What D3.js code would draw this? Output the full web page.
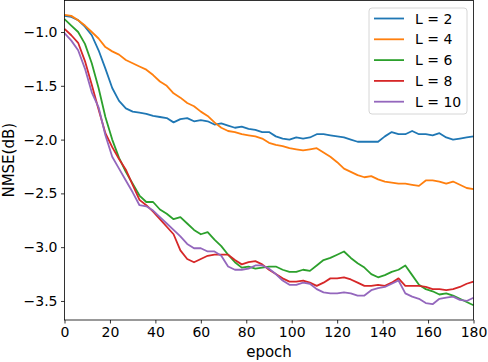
<!DOCTYPE html>
<html lang="en">
<head>
<meta charset="UTF-8">
<title>NMSE vs epoch</title>
<script src="https://cdn.jsdelivr.net/npm/d3@7"></script>
<style>
  body { margin: 0; background: #fff; }
  svg text { font-family: "DejaVu Sans", sans-serif; fill: #000; }
</style>
</head>
<body>
<svg width="488" height="362"></svg>
<script>
    // epochs sampled every 3
    var epochs = d3.range(0, 181, 3);

    var labels = ["L = 2", "L = 4", "L = 6", "L = 8", "L = 10"];
    var colors = ["#1f77b4", "#ff7f0e", "#2ca02c", "#d62728", "#9467bd"];

    var l2 = [-0.85,-0.86,-0.89,-0.95,-1.03,-1.17,-1.34,-1.52,-1.64,-1.71,-1.74,-1.75,-1.76,-1.78,-1.79,-1.80,
        -1.84,-1.81,-1.80,-1.83,-1.82,-1.83,-1.86,-1.85,-1.87,-1.89,-1.88,-1.90,-1.91,-1.93,-1.93,-1.97,-1.99,
        -2.00,-1.98,-1.99,-1.98,-1.95,-1.95,-1.96,-1.97,-1.98,-2.00,-2.02,-2.02,-2.02,-2.02,-1.97,-1.93,-1.95,
        -1.95,-1.92,-1.95,-1.95,-1.96,-1.94,-1.98,-2.00,-1.99,-1.98,-1.97];
    var l4 = [-0.84,-0.85,-0.89,-0.94,-1.00,-1.06,-1.14,-1.18,-1.21,-1.26,-1.29,-1.32,-1.35,-1.40,-1.46,-1.50,
        -1.57,-1.61,-1.66,-1.69,-1.74,-1.78,-1.84,-1.89,-1.92,-1.93,-1.95,-1.96,-1.97,-1.99,-2.03,-2.05,-2.06,
        -2.08,-2.09,-2.10,-2.09,-2.08,-2.12,-2.16,-2.21,-2.27,-2.30,-2.33,-2.35,-2.34,-2.37,-2.39,-2.40,-2.41,
        -2.41,-2.42,-2.43,-2.38,-2.38,-2.39,-2.41,-2.39,-2.42,-2.45,-2.46];
    var l6 = [-0.88,-0.94,-1.00,-1.11,-1.29,-1.52,-1.79,-2.00,-2.17,-2.30,-2.41,-2.52,-2.58,-2.58,-2.65,-2.69,
        -2.74,-2.72,-2.78,-2.84,-2.88,-2.86,-2.93,-2.99,-3.07,-3.14,-3.19,-3.18,-3.20,-3.19,-3.18,-3.18,-3.21,
        -3.23,-3.23,-3.21,-3.22,-3.17,-3.12,-3.10,-3.07,-3.04,-3.10,-3.15,-3.19,-3.25,-3.28,-3.26,-3.23,-3.21,
        -3.17,-3.26,-3.35,-3.39,-3.41,-3.44,-3.43,-3.45,-3.48,-3.51,-3.54];
    var l8 = [-0.97,-1.03,-1.10,-1.27,-1.49,-1.72,-1.94,-2.07,-2.18,-2.28,-2.42,-2.56,-2.61,-2.67,-2.74,-2.81,
        -2.88,-3.03,-3.11,-3.14,-3.11,-3.08,-3.07,-3.07,-3.07,-3.12,-3.16,-3.14,-3.13,-3.16,-3.21,-3.25,-3.29,
        -3.32,-3.32,-3.31,-3.33,-3.36,-3.33,-3.29,-3.29,-3.28,-3.30,-3.33,-3.36,-3.36,-3.35,-3.36,-3.33,-3.29,
        -3.36,-3.36,-3.36,-3.37,-3.39,-3.39,-3.40,-3.39,-3.37,-3.34,-3.32];
    var l10 = [-1.01,-1.08,-1.17,-1.34,-1.56,-1.70,-1.96,-2.16,-2.27,-2.38,-2.49,-2.61,-2.62,-2.66,-2.72,-2.78,
        -2.84,-2.90,-2.97,-3.01,-3.01,-3.04,-3.04,-3.08,-3.18,-3.21,-3.21,-3.20,-3.17,-3.17,-3.20,-3.25,-3.31,
        -3.35,-3.35,-3.33,-3.34,-3.39,-3.42,-3.43,-3.43,-3.42,-3.43,-3.45,-3.45,-3.40,-3.38,-3.37,-3.34,-3.31,
        -3.43,-3.46,-3.48,-3.52,-3.53,-3.48,-3.47,-3.46,-3.49,-3.50,-3.47];

    var xTicks = [0, 20, 40, 60, 80, 100, 120, 140, 160, 180];
    var yTicks = [-1.0, -1.5, -2.0, -2.5, -3.0, -3.5];

    var series = [l2, l4, l6, l8, l10];

    var svg = d3.select("svg");
    var plotL = 64.5, plotR = 473.5, plotT = 0.5, plotB = 320;

    var x = d3.scaleLinear().domain([0, 180]).range([plotL, plotR]);
    var y = d3.scaleLinear().domain([-3.677, -0.707]).range([plotB, plotT]);

    var minus = function (v) { return d3.format(".1f")(v).replace("-", "\u2212"); };

    // axes
    var gx = svg.append("g")
        .attr("transform", "translate(0," + plotB + ")")
        .call(d3.axisBottom(x).tickValues(xTicks).tickSize(3.5).tickPadding(3.5));
    var gy = svg.append("g")
        .attr("transform", "translate(" + plotL + ",0)")
        .call(d3.axisLeft(y).tickValues(yTicks).tickSize(3.5).tickPadding(3.5).tickFormat(minus));
    [gx, gy].forEach(function (g) {
        g.select(".domain").remove();
        g.selectAll("text").attr("font-size", 14).attr("font-family", "DejaVu Sans").attr("fill", "#000");
        g.selectAll("line").attr("stroke", "#000").attr("stroke-width", 0.8);
    });

    // lines
    var line = d3.line()
        .x(function (d, i) { return x(epochs[i]); })
        .y(function (d) { return y(d); });

    svg.append("g").selectAll("path")
        .data(series)
        .enter()
        .append("path")
        .attr("d", line)
        .attr("fill", "none")
        .attr("stroke", function (d, i) { return colors[i]; })
        .attr("stroke-width", 1.8)
        .attr("stroke-linejoin", "round");

    // frame
    svg.append("rect")
        .attr("x", plotL).attr("y", plotT)
        .attr("width", plotR - plotL).attr("height", plotB - plotT)
        .attr("fill", "none").attr("stroke", "#000").attr("stroke-width", 0.8);

    // axis titles
    svg.append("text")
        .attr("x", (plotL + plotR) / 2).attr("y", 357)
        .attr("text-anchor", "middle").attr("font-size", 15)
        .text("epoch");
    svg.append("text")
        .attr("transform", "translate(14," + (plotT + plotB) / 2 + ") rotate(-90)")
        .attr("text-anchor", "middle").attr("font-size", 15)
        .text("NMSE(dB)");

    // legend
    var lg = svg.append("g").attr("transform", "translate(369,8)");
    lg.append("rect")
        .attr("width", 98).attr("height", 106).attr("rx", 3)
        .attr("fill", "#fff").attr("fill-opacity", 0.8)
        .attr("stroke", "#ccc").attr("stroke-width", 0.8);
    var items = lg.selectAll(".item")
        .data(labels)
        .enter()
        .append("g")
        .attr("transform", function (d, i) { return "translate(0," + (10.5 + i * 20.8) + ")"; });
    items.append("line")
        .attr("x1", 5).attr("x2", 35)
        .attr("stroke", function (d, i) { return colors[i]; })
        .attr("stroke-width", 1.8);
    items.append("text")
        .attr("x", 46).attr("dy", "0.36em")
        .attr("font-size", 14)
        .text(function (d) { return d; });
</script>
</body>
</html>
